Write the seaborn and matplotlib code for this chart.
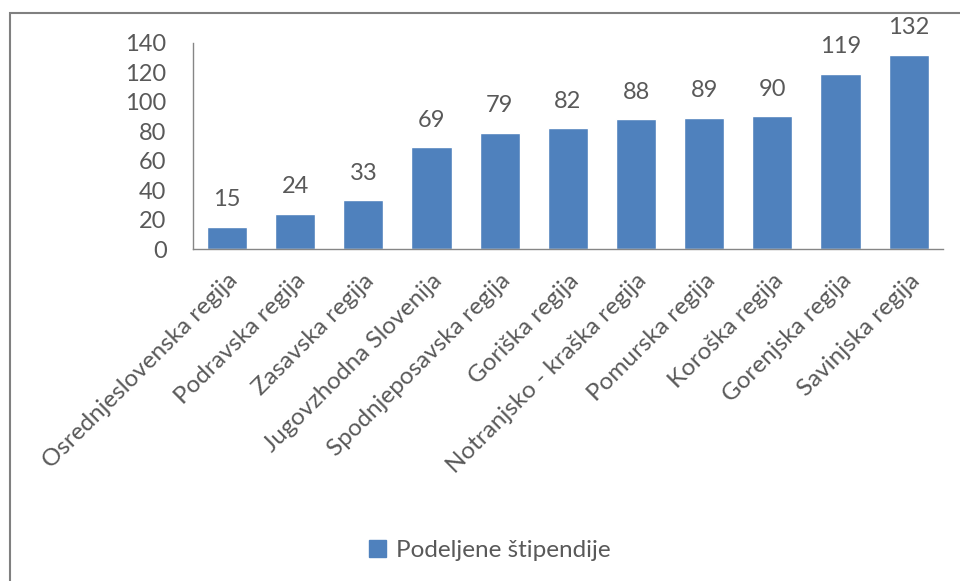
import matplotlib
matplotlib.use('Agg')
import matplotlib.pyplot as plt
import matplotlib.patches as mpatches
import seaborn as sns
import pandas as pd

regions = ['Osrednjeslovenska regija', 'Podravska regija', 'Zasavska regija',
           'Jugovzhodna Slovenija', 'Spodnjeposavska regija', 'Goriška regija',
           'Notranjsko - kraška regija', 'Pomurska regija', 'Koroška regija',
           'Gorenjska regija', 'Savinjska regija']
stipendije = [15, 24, 33, 69, 79, 82, 88, 89, 90, 119, 132]
series_name = 'Podeljene štipendije'

df = pd.DataFrame({'regija': regions, 'stevilo': stipendije})

sns.set_style('white')
plt.rcParams['font.family'] = ['Lato', 'DejaVu Sans']
grey = '#595959'
blue = '#4F81BD'

fig = plt.figure(figsize=(9.6, 5.81), dpi=100)
ax = fig.add_axes([0.201, 0.5714, 0.781, 0.355])

sns.barplot(data=df, x='regija', y='stevilo', color=blue, width=0.59,
            saturation=1, ax=ax)

ax.bar_label(ax.containers[0], padding=12, color=grey, fontsize=17)

ax.set_ylim(0, 140)
ax.set_yticks(range(0, 141, 20))
ax.set_xlim(-0.5, len(regions) - 0.5)
ax.set_xlabel('')
ax.set_ylabel('')
ax.tick_params(axis='both', length=0, colors=grey, labelsize=17)
ax.tick_params(axis='y', pad=19)
ax.tick_params(axis='x', pad=15, labelsize=17.5)
plt.setp(ax.get_xticklabels(), rotation=45, ha='right', rotation_mode='anchor')

for side in ['top', 'right']:
    ax.spines[side].set_visible(False)
for side in ['left', 'bottom']:
    ax.spines[side].set_color('#868686')
    ax.spines[side].set_linewidth(1)

# outer frame of the chart
frame = mpatches.Rectangle((10 / 960, -0.05), 1.0, 1 - 13 / 581 + 0.05,
                           transform=fig.transFigure, fill=False,
                           edgecolor='#808080', linewidth=1.5)
fig.patches.append(frame)

handle = mpatches.Patch(color=blue, label=series_name)
fig.legend(handles=[handle], loc='center', bbox_to_anchor=(0.51, 0.053),
           frameon=False, fontsize=17.5, labelcolor=grey,
           handlelength=0.7, handleheight=0.7, handletextpad=0.4)

plt.savefig('out.png', dpi=100)
